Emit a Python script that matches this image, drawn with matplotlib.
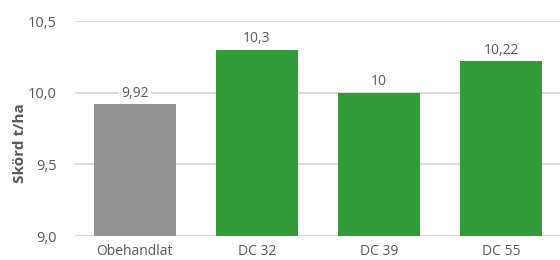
import matplotlib
matplotlib.use("Agg")
import matplotlib.pyplot as plt
from matplotlib.ticker import FuncFormatter

categories = ["Obehandlat", "DC 32", "DC 39", "DC 55"]
values = [9.92, 10.3, 10.0, 10.22]
colors = ["#939393", "#339a3a", "#339a3a", "#339a3a"]
yticks = [9.0, 9.5, 10.0, 10.5]
ylabel = "Skörd t/ha"

plt.rcParams['font.family'] = ['Open Sans', 'DejaVu Sans']
txt = "#595959"

fig = plt.figure(figsize=(5.6, 2.6), dpi=100)
ax = fig.add_axes([75 / 560, 24 / 260, 485 / 560, 215 / 260])
x = range(len(categories))
ax.bar(x, [v - yticks[0] for v in values], bottom=yticks[0], width=0.67,
       color=colors, zorder=2)
ax.set_ylim(yticks[0], yticks[-1])
ax.set_xlim(-0.49, 3.48)
ax.set_yticks(yticks)
ax.yaxis.set_major_formatter(FuncFormatter(lambda v, p: f"{v:.1f}".replace('.', ',')))
ax.set_xticks(list(x))
ax.set_xticklabels(categories)
ax.grid(axis='y', color="#d3d3d3", linewidth=1.2, zorder=0)
for s in ax.spines.values():
    s.set_visible(False)
ax.tick_params(axis='both', length=0, labelsize=10, labelcolor=txt)
ax.tick_params(axis='y', pad=13, labelsize=10.5)
ax.tick_params(axis='x', pad=6)
ax.set_ylabel(ylabel, fontsize=11, color=txt, fontweight='bold')
ax.yaxis.set_label_coords(-0.114, 0.43)
ax.yaxis.label.set_va('center')
for xi, v in zip(x, values):
    ax.text(xi, v + 0.025, f"{v:g}".replace('.', ','), ha='center', va='bottom',
            fontsize=10, color=txt, zorder=3,
            bbox=dict(facecolor='white', edgecolor='none', pad=1.5))
fig.savefig("out.png", dpi=100)
